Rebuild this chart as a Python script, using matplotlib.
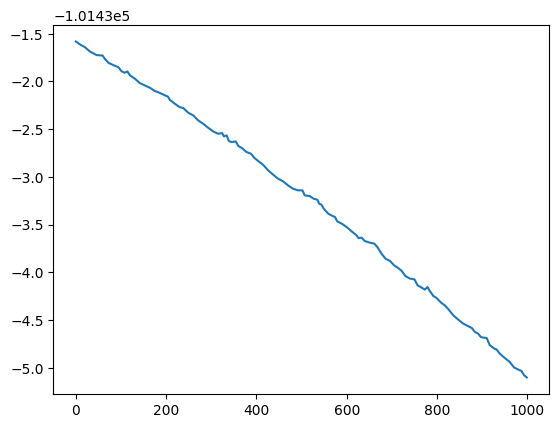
import matplotlib
matplotlib.use("Agg")
import matplotlib.pyplot as plt

# x positions (sample index) and values
x_idx = [0, 9, 20, 31, 46, 59, 64, 72, 83, 94, 101, 108, 114, 120, 131, 142, 153,
         164, 175, 182, 193, 204, 208, 219, 230, 238, 249, 260, 271, 282, 293,
         304, 315, 324, 328, 334, 339, 345, 354, 360, 368, 378, 388, 395, 404,
         415, 426, 437, 448, 459, 470, 481, 492, 502, 507, 518, 527, 535, 539,
         544, 549, 559, 566, 574, 579, 589, 600, 611, 622, 626, 633, 640, 651,
         661, 668, 677, 686, 696, 705, 714, 722, 730, 740, 750, 757, 766, 773,
         779, 784, 792, 799, 809, 818, 826, 836, 847, 858, 868, 877, 884, 891,
         897, 902, 910, 917, 927, 932, 939, 950, 961, 971, 980, 987, 993, 999]

y_vals = [-101431.582, -101431.613, -101431.642, -101431.687, -101431.725, -101431.729,
          -101431.763, -101431.805, -101431.830, -101431.851, -101431.893, -101431.910,
          -101431.896, -101431.938, -101431.973, -101432.019, -101432.043, -101432.067,
          -101432.102, -101432.113, -101432.137, -101432.160, -101432.193, -101432.234,
          -101432.270, -101432.280, -101432.329, -101432.357, -101432.409, -101432.444,
          -101432.486, -101432.524, -101432.549, -101432.542, -101432.577, -101432.566,
          -101432.626, -101432.636, -101432.629, -101432.678, -101432.699, -101432.741,
          -101432.758, -101432.800, -101432.835, -101432.875, -101432.933, -101432.978,
          -101433.020, -101433.048, -101433.090, -101433.125, -101433.142, -101433.142,
          -101433.195, -101433.202, -101433.230, -101433.240, -101433.281, -101433.292,
          -101433.334, -101433.386, -101433.404, -101433.422, -101433.467, -101433.491,
          -101433.527, -101433.572, -101433.614, -101433.642, -101433.638, -101433.673,
          -101433.690, -101433.700, -101433.736, -101433.805, -101433.858, -101433.882,
          -101433.928, -101433.956, -101433.987, -101434.040, -101434.067, -101434.074,
          -101434.137, -101434.161, -101434.182, -101434.155, -101434.196, -101434.249,
          -101434.270, -101434.318, -101434.350, -101434.392, -101434.451, -101434.496,
          -101434.538, -101434.563, -101434.584, -101434.626, -101434.643, -101434.678,
          -101434.685, -101434.689, -101434.765, -101434.800, -101434.810, -101434.852,
          -101434.898, -101434.940, -101434.999, -101435.020, -101435.034, -101435.079,
          -101435.103]

fig, ax = plt.subplots(figsize=(6.4, 4.8), dpi=100)
ax.plot(x_idx, y_vals, color="C0", linewidth=1.5)
fig.savefig("out.png", dpi=100, bbox_inches="tight")
